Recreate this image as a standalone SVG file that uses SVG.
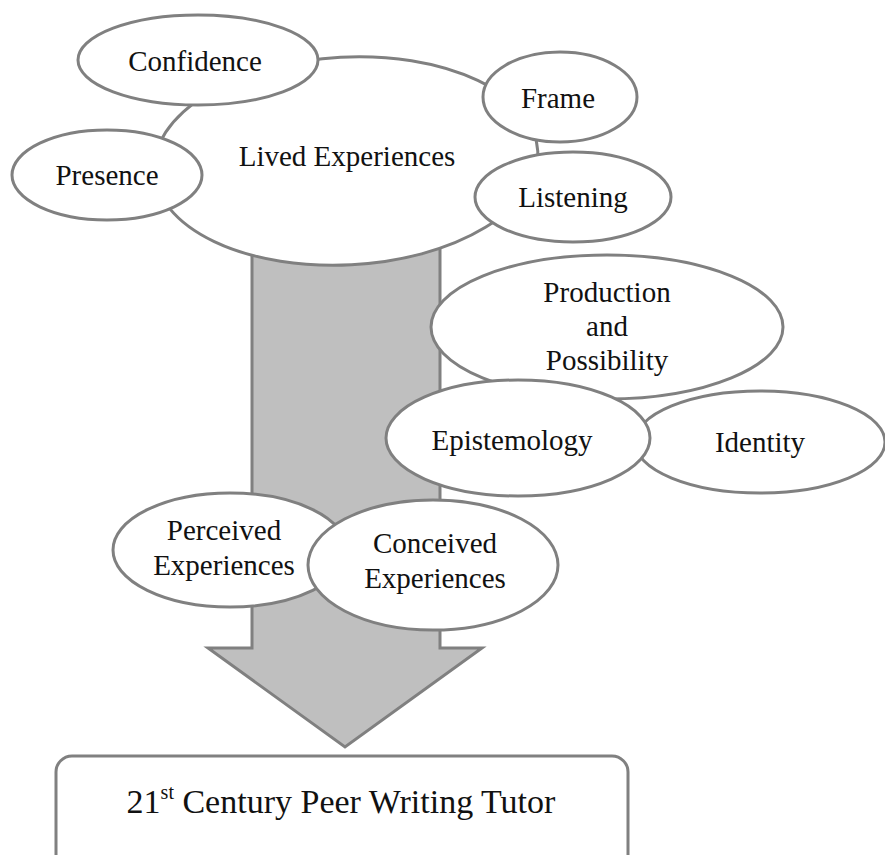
<svg xmlns="http://www.w3.org/2000/svg" width="885" height="855" viewBox="0 0 885 855">
<style>
.n{fill:#fff;stroke:#808080;stroke-width:3}
.t{font-family:"Liberation Serif","Times New Roman",serif;font-size:29px;fill:#111;text-anchor:middle}
.arrow{fill:#bfbfbf;stroke:#808080;stroke-width:3;stroke-linejoin:miter}
</style>
<rect width="885" height="855" fill="#fff"/>
<g id="connectors">
<path class="arrow" d="M252,200 L440,200 L440,648 L482,648 L345,747 L208,648 L252,648 Z"/>
</g>
<g id="lived">
<ellipse class="n" cx="346" cy="161" rx="192" ry="104" transform="rotate(-3 346 161)"/>
<text class="t" x="347" y="166">Lived Experiences</text>
</g>
<g id="confidence">
<ellipse class="n" cx="198" cy="60" rx="120" ry="45"/>
<text class="t" x="195" y="71">Confidence</text>
</g>
<g id="presence">
<ellipse class="n" cx="107" cy="175" rx="95" ry="45"/>
<text class="t" x="107" y="185">Presence</text>
</g>
<g id="frame">
<ellipse class="n" cx="560" cy="97" rx="77" ry="45"/>
<text class="t" x="558" y="108">Frame</text>
</g>
<g id="listening">
<ellipse class="n" cx="573" cy="197" rx="98" ry="45"/>
<text class="t" x="573" y="207">Listening</text>
</g>
<g id="production">
<ellipse class="n" cx="607" cy="327" rx="176" ry="72"/>
<text class="t" x="607" y="302">Production</text>
<text class="t" x="607" y="336">and</text>
<text class="t" x="607" y="370">Possibility</text>
</g>
<g id="identity">
<ellipse class="n" cx="760" cy="442" rx="125" ry="51"/>
<text class="t" x="760" y="452">Identity</text>
</g>
<g id="epistemology">
<ellipse class="n" cx="518" cy="438" rx="132" ry="58"/>
<text class="t" x="512" y="450">Epistemology</text>
</g>
<g id="perceived">
<ellipse class="n" cx="230" cy="550" rx="117" ry="57"/>
<text class="t" x="224" y="540">Perceived</text>
<text class="t" x="224" y="575">Experiences</text>
</g>
<g id="conceived">
<ellipse class="n" cx="433" cy="565" rx="125" ry="65"/>
<text class="t" x="435" y="553">Conceived</text>
<text class="t" x="435" y="588">Experiences</text>
</g>
<g id="tutor">
<rect class="n" x="56" y="756" width="572" height="120" rx="16" ry="16"/>
<text class="t" x="341" y="813" style="font-size:34px">21<tspan font-size="20" dy="-14">st</tspan><tspan dy="14"> Century Peer Writing Tutor</tspan></text>
</g>
</svg>
